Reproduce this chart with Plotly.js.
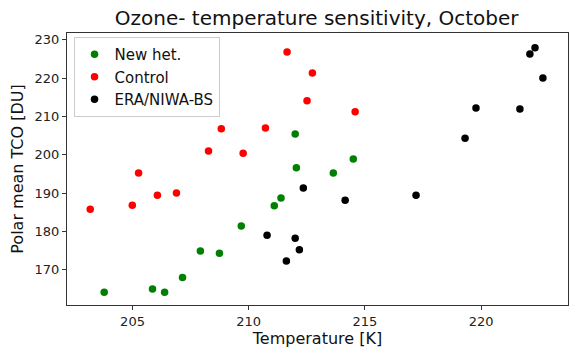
<!DOCTYPE html>
<html>
<head>
<meta charset="utf-8">
<script src="https://cdn.plot.ly/plotly-3.0.1.min.js"></script>
<style>
  body { margin: 0; background: #fff; }
  #grafico { width: 581px; height: 357px; }
</style>
</head>
<body>
<div id="grafico"></div>
<script>
// Datos (temperatura [K], TCO [DU])
const newHetT = [203.78, 205.86, 206.38, 207.15, 207.92, 208.74, 209.68, 211.10, 211.39, 212.05, 212.00, 213.64, 214.50];
const newHetO = [164.1, 165.0, 164.1, 168.0, 174.9, 174.3, 181.4, 186.7, 188.7, 196.6, 205.4, 195.2, 198.9];

const controlT = [203.18, 204.99, 205.26, 206.07, 206.89, 208.27, 208.82, 209.76, 210.72, 211.65, 212.51, 212.74, 214.58];
const controlO = [185.8, 186.8, 195.2, 189.4, 190.0, 201.0, 206.8, 200.4, 207.0, 226.8, 214.1, 221.3, 211.2];

const eraT = [210.79, 211.62, 212.00, 212.18, 212.35, 214.15, 217.20, 219.31, 219.78, 221.67, 222.10, 222.32, 222.66];
const eraO = [179.0, 172.3, 178.2, 175.2, 191.3, 188.1, 189.4, 204.3, 212.2, 211.9, 226.3, 227.9, 220.0];

const FUENTE = 'DejaVu Sans, sans-serif';

function serie(x, y, nombre, color) {
    return {
        x: x,
        y: y,
        name: nombre,
        type: 'scatter',
        mode: 'markers',
        marker: { color: color, size: 7.5 }
    };
}

const data = [
    serie(newHetT, newHetO, 'New het.', 'green'),
    serie(controlT, controlO, 'Control', 'red'),
    serie(eraT, eraO, 'ERA/NIWA-BS', 'black')
];

const ejeComun = {
    showline: true,
    linecolor: '#333',
    linewidth: 1,
    mirror: true,
    ticks: 'outside',
    ticklen: 4,
    tickcolor: '#333',
    showgrid: false,
    zeroline: false,
    tickfont: { family: FUENTE, size: 13, color: '#222' }
};

const layout = {
    width: 581,
    height: 357,
    margin: { l: 67, r: 13, t: 33, b: 52 },
    paper_bgcolor: '#fff',
    plot_bgcolor: '#fff',
    font: { family: FUENTE, color: '#111' },
    title: {
        text: 'Ozone- temperature sensitivity, October',
        font: { family: FUENTE, size: 20, color: '#111' },
        x: 0.545,
        xanchor: 'center',
        y: 0.97,
        yanchor: 'top'
    },
    xaxis: Object.assign({}, ejeComun, {
        range: [202.18, 223.74],
        tickvals: [205, 210, 215, 220],
        title: { text: 'Temperature [K]', font: { family: FUENTE, size: 16, color: '#111' }, standoff: 4 }
    }),
    yaxis: Object.assign({}, ejeComun, {
        range: [160.8, 231.75],
        tickvals: [170, 180, 190, 200, 210, 220, 230],
        title: { text: 'Polar mean TCO [DU]', font: { family: FUENTE, size: 16, color: '#111' }, standoff: 6 }
    }),
    legend: {
        x: 0.013,
        y: 0.985,
        xanchor: 'left',
        yanchor: 'top',
        bgcolor: 'rgba(255,255,255,0.8)',
        bordercolor: '#ccc',
        borderwidth: 1,
        font: { family: FUENTE, size: 15, color: '#111' },
        itemwidth: 30
    },
    showlegend: true
};

Plotly.newPlot('grafico', data, layout, { displayModeBar: false, staticPlot: true });
</script>
</body>
</html>
